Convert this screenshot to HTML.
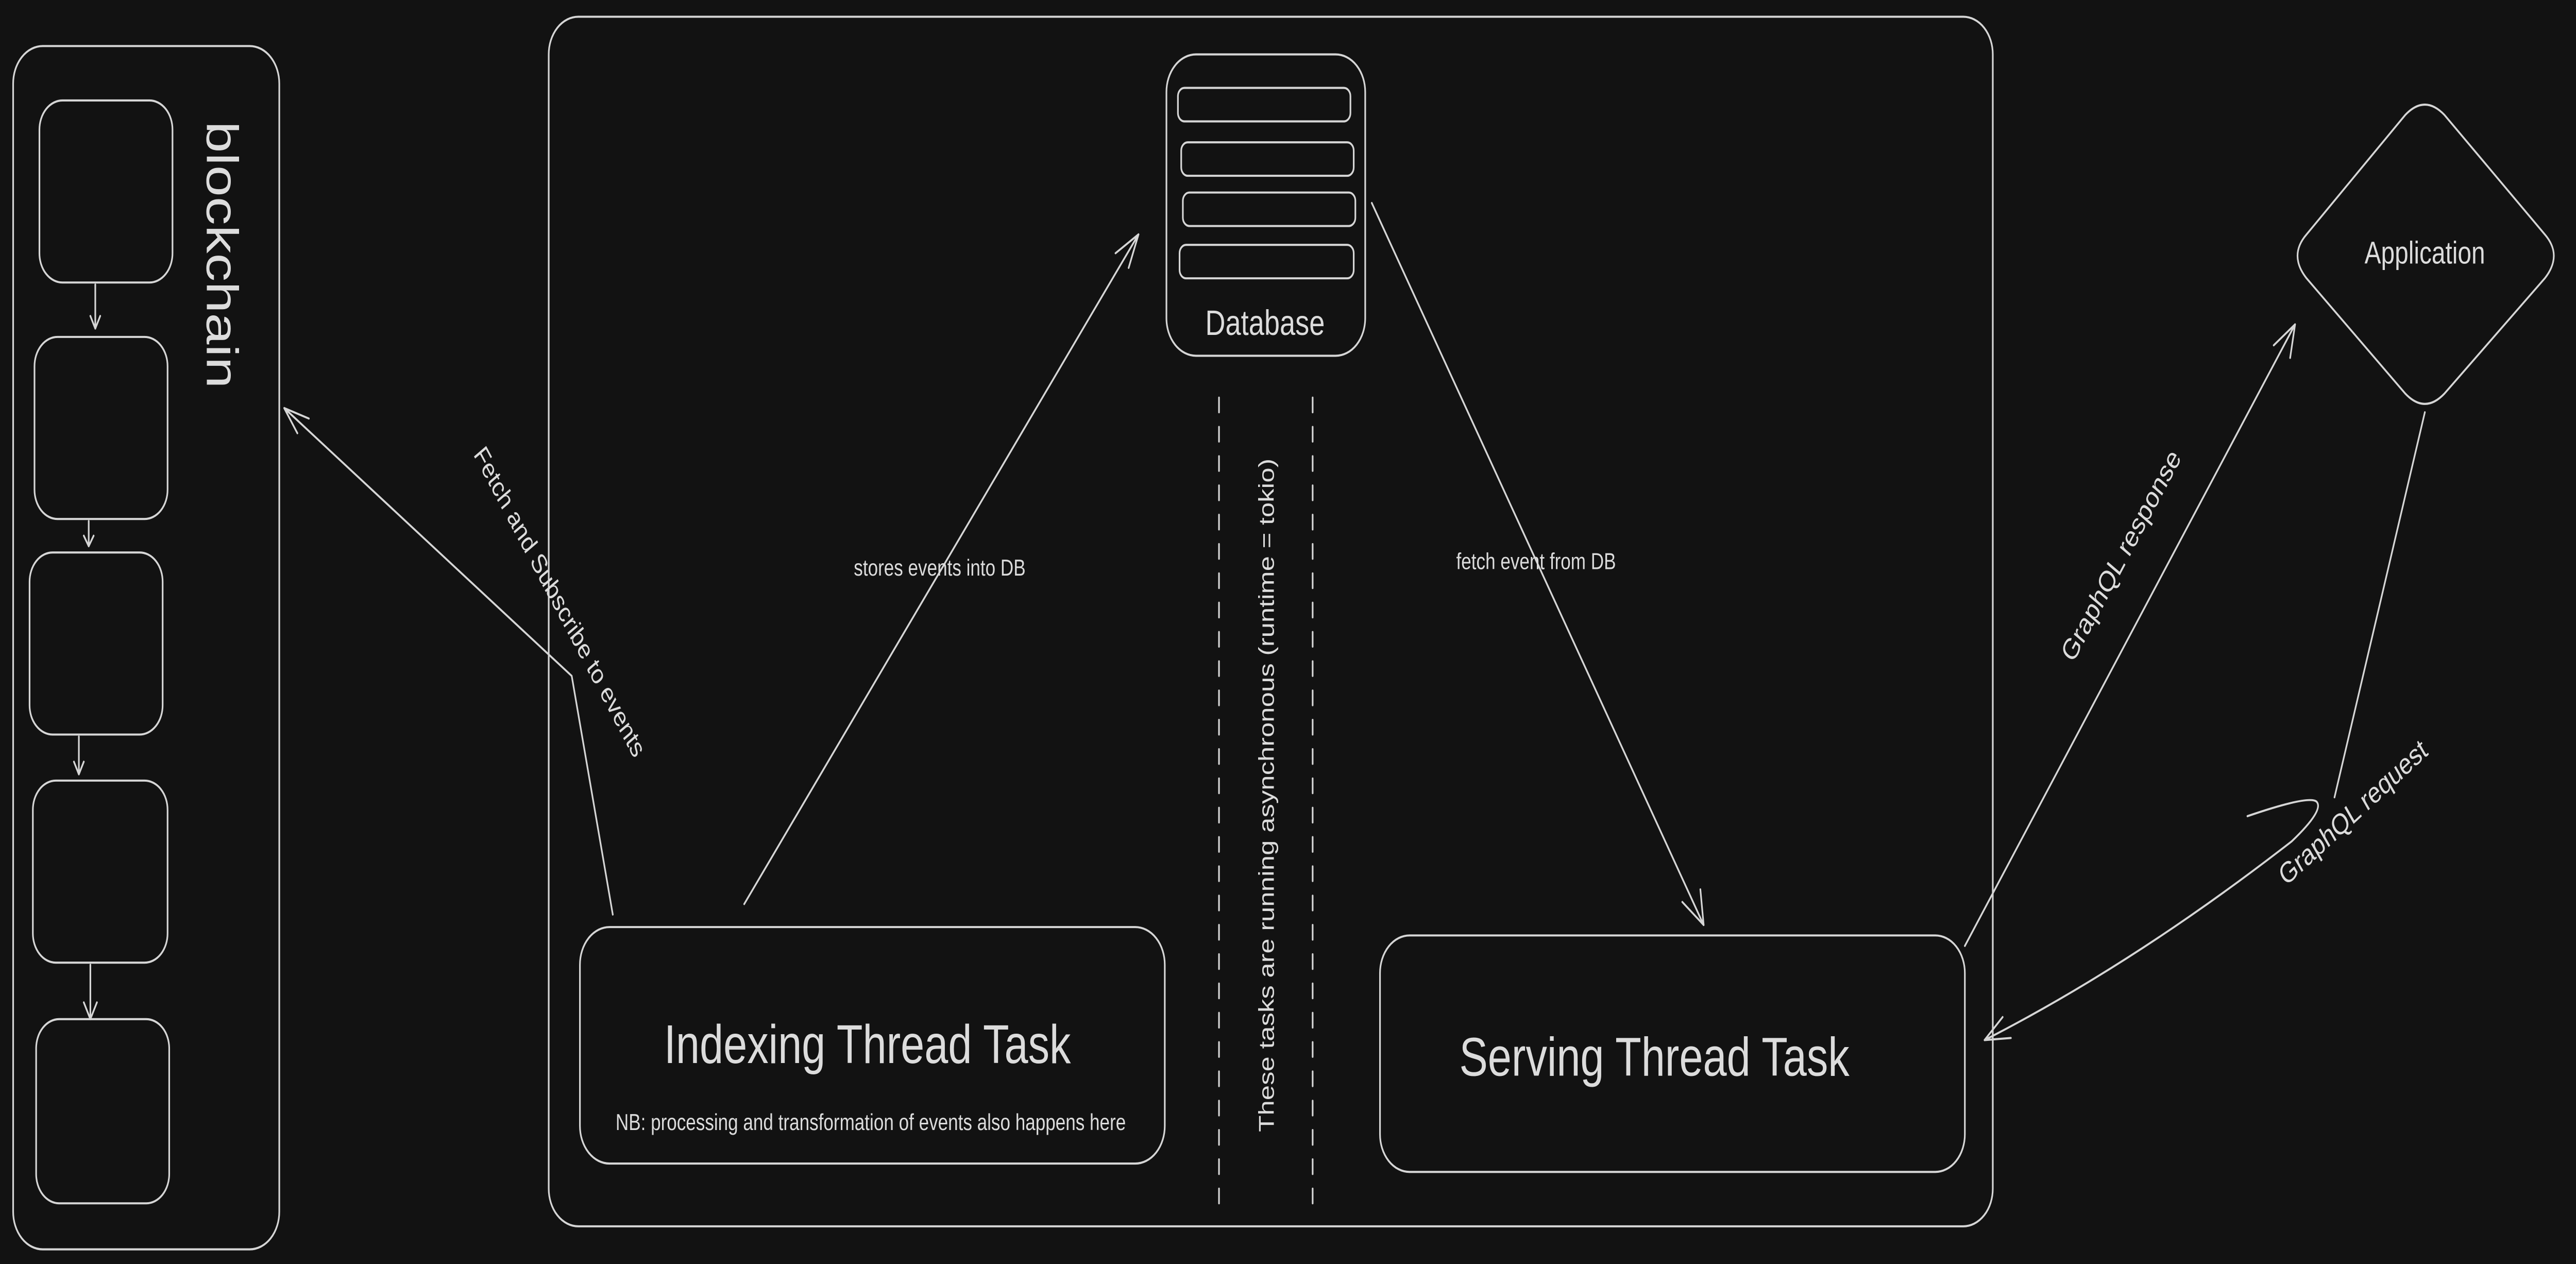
<!DOCTYPE html>
<html><head><meta charset="utf-8"><style>
html,body{margin:0;padding:0;background:#121212;width:100%;height:100%;overflow:hidden;}
svg{display:block;width:100vw;height:100vh;}
text{font-family:"Liberation Sans",sans-serif;fill:#dcdcdc;}
</style></head><body>
<svg viewBox="0 0 1568 604" preserveAspectRatio="none" xmlns="http://www.w3.org/2000/svg">
<rect width="1568" height="604" fill="#121212"/>
<g fill="none" stroke="#d6d6d6" stroke-width="1" stroke-linecap="round" stroke-linejoin="round">
<rect x="8" y="22" width="162" height="575" rx="18"/>
<rect x="24" y="48" width="81" height="87" rx="14"/>
<rect x="21" y="161" width="81" height="87" rx="14"/>
<rect x="18" y="264" width="81" height="87" rx="14"/>
<rect x="20" y="373" width="82" height="87" rx="14"/>
<rect x="22" y="487" width="81" height="88" rx="14"/>
<path d="M58 136 L58 157 M55 151 L58 157 L61 151"/>
<path d="M54 249 L54 261 M51 256 L54 261 L57 256"/>
<path d="M48 352 L48 370 M45 364 L48 370 L51 364"/>
<path d="M55 461 L55 487 M51 479 L55 487 L59 479"/>
<rect x="334" y="8" width="879" height="578" rx="18"/>
<rect x="710" y="26" width="121" height="144" rx="18"/>
<rect x="717" y="42" width="105" height="16" rx="4"/>
<rect x="719" y="68" width="105" height="16" rx="4"/>
<rect x="720" y="92" width="105" height="16" rx="4"/>
<rect x="718" y="117" width="106" height="16" rx="4"/>
<path d="M742 190 L742 575 M799 190 L799 575" stroke-dasharray="7 7"/>
<rect x="353" y="443" width="356" height="113" rx="18"/>
<rect x="840" y="447" width="356" height="113" rx="18"/>
<path d="M1464 55 Q1476 45 1488 55 L1549 112 Q1560 122 1549 133 L1488 188 Q1476 198 1464 188 L1404 133 Q1393 122 1404 112 Z"/>
<path d="M453 432 L693 112 M693 112 L679 121 M693 112 L687 128"/>
<path d="M835 97 L1037 442 M1037 442 L1024 431 M1037 442 L1035 425"/>
<path d="M373 437 L348 323 L173 195 M173 195 L181 207 M173 195 L188 200"/>
<path d="M1196 452 L1397 155 M1397 155 L1384 165 M1397 155 L1394 171"/>
<path d="M1476 197 L1421 381"/>
<path d="M1368 390 Q1405 380 1410 383 Q1415 387 1395 402 Q1300 460 1208 497 M1208 497 L1224 496 M1208 497 L1219 486"/>
</g>
<text x="133" y="58" font-size="27" transform="rotate(90 133 58)" dominant-baseline="middle">blockchain</text>
<text x="770" y="160" font-size="17" text-anchor="middle">Database</text>
<text x="772" y="380" font-size="13" text-anchor="middle" transform="rotate(-90 772 380)" dominant-baseline="middle">These tasks are running asynchronous (runtime = tokio)</text>
<text x="528" y="508" font-size="26" text-anchor="middle">Indexing Thread Task</text>
<text x="530" y="540" font-size="11" text-anchor="middle">NB: processing and transformation of events also happens here</text>
<text x="1007" y="514" font-size="26" text-anchor="middle">Serving Thread Task</text>
<text x="1476" y="126" font-size="15" text-anchor="middle">Application</text>
<text x="572" y="275" font-size="11" text-anchor="middle">stores events into DB</text>
<text x="935" y="272" font-size="11" text-anchor="middle">fetch event from DB</text>
<text x="337" y="290" font-size="13" text-anchor="middle" transform="rotate(56 337 290)">Fetch and Subscribe to events</text>
<text x="1295" y="268" font-size="14" text-anchor="middle" transform="rotate(-56 1295 268)">GraphQL response</text>
<text x="1435" y="392" font-size="14" text-anchor="middle" transform="rotate(-36 1435 392)">GraphQL request</text>
</svg>
</body></html>
